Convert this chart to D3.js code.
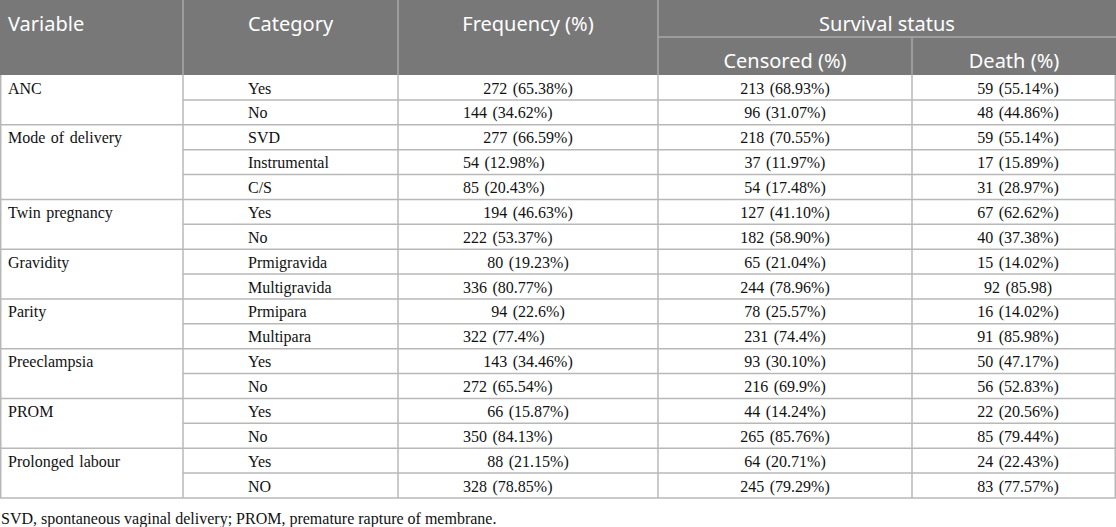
<!DOCTYPE html>
<html>
<head>
<meta charset="utf-8">
<script src="https://cdn.jsdelivr.net/npm/d3@7"></script>
<style>
  html, body { margin: 0; padding: 0; background: #fff; }
  svg { display: block; }
</style>
</head>
<body>
<svg id="chart" width="1116" height="527"></svg>
<script>
// table content
var variables = ['ANC', 'Mode of delivery', 'Twin pregnancy', 'Gravidity', 'Parity', 'Preeclampsia', 'PROM', 'Prolonged labour'];
var groupSizes = [2, 3, 2, 2, 2, 2, 2, 2];
var categories = ['Yes', 'No', 'SVD', 'Instrumental', 'C/S', 'Yes', 'No', 'Prmigravida', 'Multigravida',
    'Prmipara', 'Multipara', 'Yes', 'No', 'Yes', 'No', 'Yes', 'NO'];
var frequency = ['272 (65.38%)', '144 (34.62%)', '277 (66.59%)', '54 (12.98%)', '85 (20.43%)', '194 (46.63%)',
    '222 (53.37%)', '80 (19.23%)', '336 (80.77%)', '94 (22.6%)', '322 (77.4%)', '143 (34.46%)', '272 (65.54%)',
    '66 (15.87%)', '350 (84.13%)', '88 (21.15%)', '328 (78.85%)'];
var censored = ['213 (68.93%)', '96 (31.07%)', '218 (70.55%)', '37 (11.97%)', '54 (17.48%)', '127 (41.10%)',
    '182 (58.90%)', '65 (21.04%)', '244 (78.96%)', '78 (25.57%)', '231 (74.4%)', '93 (30.10%)', '216 (69.9%)',
    '44 (14.24%)', '265 (85.76%)', '64 (20.71%)', '245 (79.29%)'];
var death = ['59 (55.14%)', '48 (44.86%)', '59 (55.14%)', '17 (15.89%)', '31 (28.97%)', '67 (62.62%)',
    '40 (37.38%)', '15 (14.02%)', '92 (85.98)', '16 (14.02%)', '91 (85.98%)', '50 (47.17%)', '56 (52.83%)',
    '22 (20.56%)', '85 (79.44%)', '24 (22.43%)', '83 (77.57%)'];
var headers = ['Variable', 'Category', 'Frequency (%)', 'Survival status', 'Censored (%)', 'Death (%)'];
var footnote = 'SVD, spontaneous vaginal delivery; PROM, premature rapture of membrane.';

var W = 1116;
var colEdges = [0, 183, 398, 658, 912, W];
var headTop = 0, headMid = 37, headBot = 75, tableBot = 498;
var lineCol = '#b8b8b8';
var serif = '"Liberation Serif", "Times New Roman", serif';
var sans = '"Noto Sans", "Open Sans", sans-serif';
var baseOff = 18.5;

var svg = d3.select('#chart');
var nRows = categories.length;
var y = d3.scaleLinear().domain([0, nRows]).range([headBot, tableBot]);

// group start index for each variable
var starts = [];
groupSizes.reduce(function(acc, n) { starts.push(acc); return acc + n; }, 0);
var groups = variables.map(function(v, i) { return { name: v, start: starts[i], size: groupSizes[i] }; });
var rows = categories.map(function(c, i) {
    var g = groups.filter(function(g) { return i >= g.start && i < g.start + g.size; })[0];
    return { cat: c, freq: frequency[i], cens: censored[i], death: death[i], first: i === g.start, i: i };
});

// header background
svg.append('rect')
    .attr('x', 0).attr('y', headTop).attr('width', W).attr('height', headBot - headTop)
    .attr('fill', '#787878');

// header lines
var hl = svg.append('g').attr('stroke', '#a9a9a9').attr('stroke-width', 1.5);
colEdges.slice(1, 5).forEach(function(x, k) {
    hl.append('line')
        .attr('x1', x).attr('x2', x)
        .attr('y1', k === 3 ? headMid : headTop).attr('y2', headBot);
});
hl.append('line').attr('x1', colEdges[3]).attr('x2', W).attr('y1', headMid).attr('y2', headMid);

var ht = svg.append('g').attr('fill', '#fff').style('font-family', sans).style('font-size', '20px');
ht.append('text').attr('x', 8).attr('y', 31).text(headers[0]);
ht.append('text').attr('x', (colEdges[1] + colEdges[2]) / 2).attr('y', 31).attr('text-anchor', 'middle').text(headers[1]);
ht.append('text').attr('x', (colEdges[2] + colEdges[3]) / 2).attr('y', 31).attr('text-anchor', 'middle').text(headers[2]);
ht.append('text').attr('x', (colEdges[3] + W) / 2).attr('y', 31).attr('text-anchor', 'middle').text(headers[3]);
ht.append('text').attr('x', (colEdges[3] + colEdges[4]) / 2).attr('y', 68).attr('text-anchor', 'middle').text(headers[4]);
ht.append('text').attr('x', (colEdges[4] + W) / 2).attr('y', 68).attr('text-anchor', 'middle').text(headers[5]);

// body grid
var grid = svg.append('g').attr('stroke', lineCol).attr('stroke-width', 1.5);
rows.forEach(function(r) {
    var yy = y(r.i + 1);
    grid.append('line')
        .attr('x1', r.i + 1 === nRows || rows[r.i + 1].first ? 0 : colEdges[1])
        .attr('x2', W).attr('y1', yy).attr('y2', yy);
});
colEdges.forEach(function(x, k) {
    var xx = k === 0 ? 0.75 : (k === colEdges.length - 1 ? W - 0.75 : x);
    grid.append('line').attr('x1', xx).attr('x2', xx).attr('y1', headBot).attr('y2', tableBot);
});

// body text
var body = svg.append('g').attr('fill', '#111').style('font-family', serif)
    .style('font-size', '16px').style('word-spacing', '1.5px');
body.selectAll('.var').data(groups).enter().append('text')
    .attr('class', 'var')
    .attr('x', 8)
    .attr('y', function(d) { return y(d.start) + baseOff; })
    .text(function(d) { return d.name; });

body.selectAll('.cat').data(rows).enter().append('text')
    .attr('class', 'cat')
    .attr('x', 248)
    .attr('y', function(d) { return y(d.i) + baseOff; })
    .text(function(d) { return d.cat; });

body.selectAll('.freq').data(rows).enter().append('text')
    .attr('class', 'freq')
    .attr('x', function(d) { return d.first ? (colEdges[2] + colEdges[3]) / 2 : 463; })
    .attr('text-anchor', function(d) { return d.first ? 'middle' : 'start'; })
    .attr('y', function(d) { return y(d.i) + baseOff; })
    .text(function(d) { return d.freq; });

body.selectAll('.cens').data(rows).enter().append('text')
    .attr('class', 'cens')
    .attr('x', (colEdges[3] + colEdges[4]) / 2)
    .attr('text-anchor', 'middle')
    .attr('y', function(d) { return y(d.i) + baseOff; })
    .text(function(d) { return d.cens; });

body.selectAll('.death').data(rows).enter().append('text')
    .attr('class', 'death')
    .attr('x', (colEdges[4] + W) / 2 + 4)
    .attr('text-anchor', 'middle')
    .attr('y', function(d) { return y(d.i) + baseOff; })
    .text(function(d) { return d.death; });

svg.append('text')
    .attr('x', 1).attr('y', 524)
    .attr('fill', '#111')
    .style('font-family', serif).style('font-size', '16px')
    .text(footnote);
</script>
</body>
</html>
